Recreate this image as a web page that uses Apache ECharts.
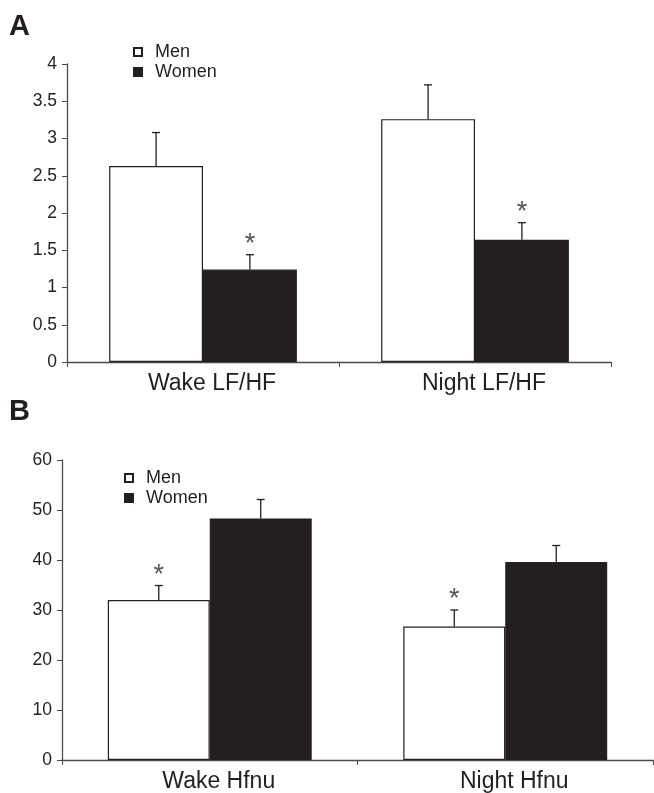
<!DOCTYPE html>
<html><head><meta charset="utf-8">
<script src="https://cdn.jsdelivr.net/npm/echarts@6/dist/echarts.min.js"></script>
<style>html,body{margin:0;padding:0;background:#fff}#c{width:654px;height:793px}</style>
</head><body><div id="c"></div>
<script>
// ---- data ----
const categoriesA = ['Wake LF/HF', 'Night LF/HF'];
const menA = [2.63, 3.26];
const menAErr = [0.45, 0.46];
const womenA = [1.24, 1.64];
const womenAErr = [0.20, 0.23];
const starsA = { men: [false, false], women: [true, true] };
const yTicksA = { min: 0, max: 4, interval: 0.5 };

const categoriesB = ['Wake Hfnu', 'Night Hfnu'];
const menB = [32.0, 26.7];
const menBErr = [2.9, 3.3];
const womenB = [48.3, 39.6];
const womenBErr = [3.8, 3.3];
const starsB = { men: [true, true], women: [false, false] };
const yTicksB = { min: 0, max: 60, interval: 10 };

// ---- style ----
const FONT = 'Liberation Sans, Arial, sans-serif';
const INK = '#231f20';
const AXIS = '#4a4a4a';
const GAP = 0.31;

function errData(vals, errs, stars, side) {
  return vals.map((v, i) => [i, v, v + errs[i], side, stars[i] ? 1 : 0]);
}
function renderErr(params, api) {
  const ci = api.value(0), v = api.value(1), top = api.value(2), side = api.value(3), star = api.value(4);
  const band = api.size([1, 0])[0];
  const barW = band * (1 - GAP) / 2;
  const p0 = api.coord([ci, v]);
  const p1 = api.coord([ci, top]);
  const x = p0[0] + side * barW / 2;
  const st = { stroke: INK, lineWidth: 1.3 };
  const children = [
    { type: 'line', shape: { x1: x, y1: p0[1], x2: x, y2: p1[1] }, style: st },
    { type: 'line', shape: { x1: x - 4, y1: p1[1], x2: x + 4, y2: p1[1] }, style: st }
  ];
  if (star) {
    children.push({ type: 'text', style: { text: '*', x: x, y: p1[1] - 10, fill: '#555', font: '27px ' + FONT, textAlign: 'center', textVerticalAlign: 'middle' } });
  }
  return { type: 'group', children };
}

function xAxis(idx, cats, pad) {
  return {
    type: 'category', gridIndex: idx, data: cats,
    axisLine: { lineStyle: { color: AXIS, width: 1.3 } },
    axisTick: { show: true, length: 5, lineStyle: { color: AXIS } },
    axisLabel: { color: INK, fontSize: 23, fontFamily: FONT, margin: 10, padding: [0, 0, 0, pad] }
  };
}
function yAxis(idx, t, fs) {
  return {
    type: 'value', gridIndex: idx, min: t.min, max: t.max, interval: t.interval,
    splitLine: { show: false },
    axisLine: { show: true, lineStyle: { color: AXIS, width: 1.3 } },
    axisTick: { show: true, length: 5, lineStyle: { color: AXIS } },
    axisLabel: { color: INK, fontSize: fs, fontFamily: FONT, margin: 10 }
  };
}
function bars(name, data, xi, fill) {
  return {
    name, type: 'bar', xAxisIndex: xi, yAxisIndex: xi, data,
    barGap: '0%', barCategoryGap: (GAP * 100) + '%',
    itemStyle: { color: fill, borderColor: INK, borderWidth: 1.2 },
    silent: true, animation: false
  };
}
function errSeries(xi, d) {
  return { type: 'custom', xAxisIndex: xi, yAxisIndex: xi, data: d, renderItem: renderErr, silent: true, animation: false, z: 5 };
}
function legend(left, top) {
  return {
    orient: 'vertical', left, top, padding: 0, itemWidth: 8, itemHeight: 8, itemGap: 0,
    icon: 'rect', selectedMode: false, data: ['Men', 'Women'],
    textStyle: { color: INK, fontSize: 18, fontFamily: FONT, lineHeight: 20, padding: [0, 0, 0, 8] }
  };
}

const chart = echarts.init(document.getElementById('c'), null, { renderer: 'canvas' });
chart.setOption({
  animation: false,
  backgroundColor: '#fff',
  grid: [
    { left: 67, right: 654 - 611, top: 64, height: 298 },
    { left: 62, right: 1, top: 460, height: 300 }
  ],
  xAxis: [xAxis(0, categoriesA, 18), xAxis(1, categoriesB, 18)],
  yAxis: [yAxis(0, yTicksA, 17.5), yAxis(1, yTicksB, 17.5)],
  legend: [legend(133, 42), legend(124, 468)],
  graphic: [
    { type: 'text', left: 9, top: 12, style: { text: 'A', font: 'bold 29px ' + FONT, fill: INK } },
    { type: 'text', left: 9, top: 397, style: { text: 'B', font: 'bold 29px ' + FONT, fill: INK } }
  ],
  series: [
    bars('Men', menA, 0, '#ffffff'),
    bars('Women', womenA, 0, INK),
    errSeries(0, errData(menA, menAErr, starsA.men, -1).concat(errData(womenA, womenAErr, starsA.women, 1))),
    bars('Men', menB, 1, '#ffffff'),
    bars('Women', womenB, 1, INK),
    errSeries(1, errData(menB, menBErr, starsB.men, -1).concat(errData(womenB, womenBErr, starsB.women, 1)))
  ]
});
</script></body></html>
